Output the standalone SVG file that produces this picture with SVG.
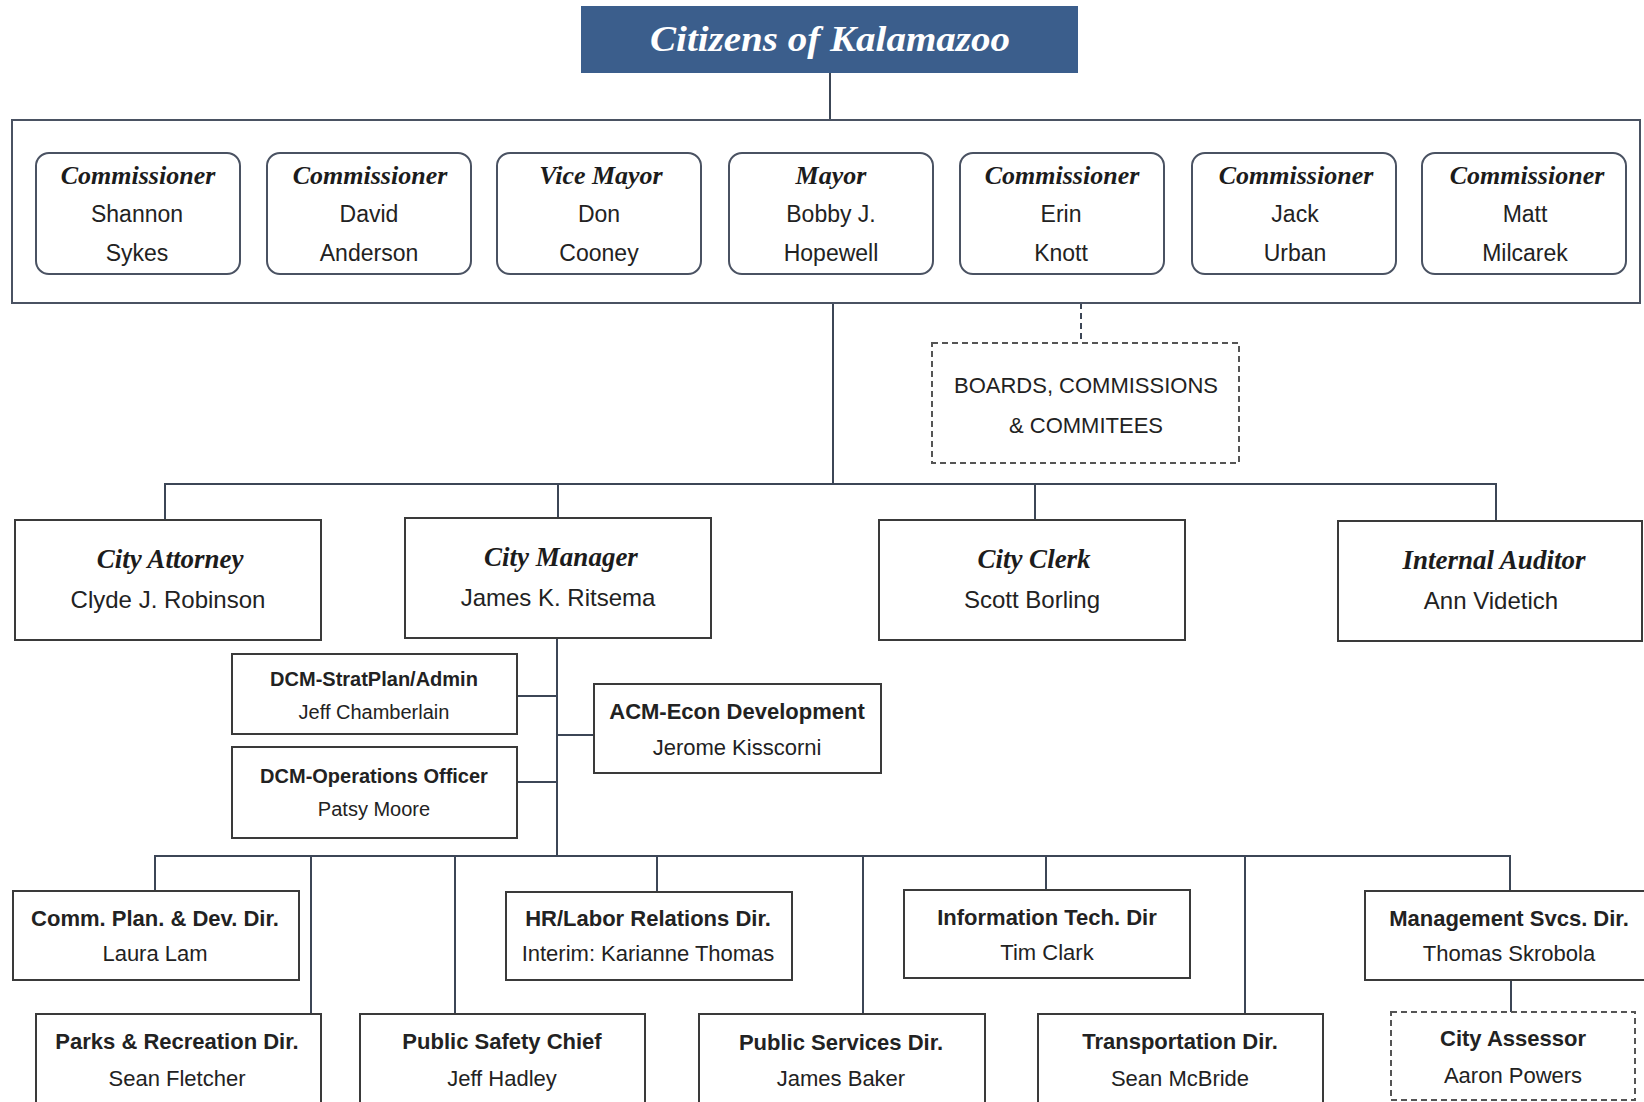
<svg xmlns="http://www.w3.org/2000/svg" width="1644" height="1102" viewBox="0 0 1644 1102">
<defs>
<style>
.bg{fill:#ffffff}
.ttl{font-family:"Liberation Serif",serif;font-style:italic;font-weight:bold;fill:#1c1c1c;text-anchor:middle}
.nm{font-family:"Liberation Sans",sans-serif;fill:#222;text-anchor:middle}
.bd{font-family:"Liberation Sans",sans-serif;font-weight:bold;fill:#222;text-anchor:middle}
.cbox{fill:#fff;stroke:#4a5262;stroke-width:2}
.box{fill:#fff;stroke:#3a3a3a;stroke-width:2}
.dbox{fill:#fff;stroke:#555;stroke-width:2;stroke-dasharray:6 4}
.ln{fill:none;stroke:#3c4656;stroke-width:2}
.dln{fill:none;stroke:#3c4656;stroke-width:2;stroke-dasharray:6 4}
</style>
</defs>
<rect class="bg" x="0" y="0" width="1644" height="1102"/>

<g id="connectors">
<line class="ln" x1="830" y1="73" x2="830" y2="120"/>
<line class="ln" x1="833" y1="303" x2="833" y2="484"/>
<line class="dln" x1="1081" y1="303" x2="1081" y2="343"/>
<polyline class="ln" points="165,520 165,484 1496,484 1496,521"/>
<line class="ln" x1="558" y1="484" x2="558" y2="518"/>
<line class="ln" x1="1035" y1="484" x2="1035" y2="520"/>
<line class="ln" x1="557" y1="638" x2="557" y2="856"/>
<line class="ln" x1="517" y1="696" x2="557" y2="696"/>
<line class="ln" x1="517" y1="782" x2="557" y2="782"/>
<line class="ln" x1="557" y1="735" x2="594" y2="735"/>
<polyline class="ln" points="155,891 155,856 1510,856 1510,891"/>
<line class="ln" x1="657" y1="856" x2="657" y2="892"/>
<line class="ln" x1="1046" y1="856" x2="1046" y2="890"/>
<line class="ln" x1="311" y1="856" x2="311" y2="1014"/>
<line class="ln" x1="455" y1="856" x2="455" y2="1014"/>
<line class="ln" x1="863" y1="856" x2="863" y2="1014"/>
<line class="ln" x1="1245" y1="856" x2="1245" y2="1014"/>
<line class="ln" x1="1511" y1="980" x2="1511" y2="1012"/>
</g>

<g id="citizens">
<rect x="581" y="6" width="497" height="67" fill="#3b5e8c"/>
<text x="830" y="51" class="ttl" font-size="36" style="fill:#fff" textLength="360" lengthAdjust="spacingAndGlyphs">Citizens of Kalamazoo</text>
</g>

<g id="council">
<rect class="cbox" x="12" y="120" width="1628" height="183"/>
</g>

<g id="comm-sykes">
<rect class="cbox" x="36" y="153" width="204" height="121" rx="13"/>
<text x="138" y="184" class="ttl" font-size="26">Commissioner</text>
<text x="137" y="222" class="nm" font-size="23">Shannon</text>
<text x="137" y="261" class="nm" font-size="23">Sykes</text>
</g>
<g id="comm-anderson">
<rect class="cbox" x="267" y="153" width="204" height="121" rx="13"/>
<text x="370" y="184" class="ttl" font-size="26">Commissioner</text>
<text x="369" y="222" class="nm" font-size="23">David</text>
<text x="369" y="261" class="nm" font-size="23">Anderson</text>
</g>
<g id="vice-mayor">
<rect class="cbox" x="497" y="153" width="204" height="121" rx="13"/>
<text x="601" y="184" class="ttl" font-size="26">Vice Mayor</text>
<text x="599" y="222" class="nm" font-size="23">Don</text>
<text x="599" y="261" class="nm" font-size="23">Cooney</text>
</g>
<g id="mayor">
<rect class="cbox" x="729" y="153" width="204" height="121" rx="13"/>
<text x="831" y="184" class="ttl" font-size="26">Mayor</text>
<text x="831" y="222" class="nm" font-size="23">Bobby J.</text>
<text x="831" y="261" class="nm" font-size="23">Hopewell</text>
</g>
<g id="comm-knott">
<rect class="cbox" x="960" y="153" width="204" height="121" rx="13"/>
<text x="1062" y="184" class="ttl" font-size="26">Commissioner</text>
<text x="1061" y="222" class="nm" font-size="23">Erin</text>
<text x="1061" y="261" class="nm" font-size="23">Knott</text>
</g>
<g id="comm-urban">
<rect class="cbox" x="1192" y="153" width="204" height="121" rx="13"/>
<text x="1296" y="184" class="ttl" font-size="26">Commissioner</text>
<text x="1295" y="222" class="nm" font-size="23">Jack</text>
<text x="1295" y="261" class="nm" font-size="23">Urban</text>
</g>
<g id="comm-milcarek">
<rect class="cbox" x="1422" y="153" width="204" height="121" rx="13"/>
<text x="1527" y="184" class="ttl" font-size="26">Commissioner</text>
<text x="1525" y="222" class="nm" font-size="23">Matt</text>
<text x="1525" y="261" class="nm" font-size="23">Milcarek</text>
</g>

<g id="boards">
<rect class="dbox" x="932" y="343" width="307" height="120"/>
<text x="1086" y="393" class="nm" font-size="22">BOARDS, COMMISSIONS</text>
<text x="1086" y="433" class="nm" font-size="22">&amp; COMMITEES</text>
</g>

<g id="city-attorney">
<rect class="box" x="15" y="520" width="306" height="120"/>
<text x="170" y="568" class="ttl" font-size="27">City Attorney</text>
<text x="168" y="608" class="nm" font-size="24">Clyde J. Robinson</text>
</g>
<g id="city-manager">
<rect class="box" x="405" y="518" width="306" height="120"/>
<text x="561" y="566" class="ttl" font-size="27">City Manager</text>
<text x="558" y="606" class="nm" font-size="24">James K. Ritsema</text>
</g>
<g id="city-clerk">
<rect class="box" x="879" y="520" width="306" height="120"/>
<text x="1034" y="568" class="ttl" font-size="27">City Clerk</text>
<text x="1032" y="608" class="nm" font-size="24">Scott Borling</text>
</g>
<g id="internal-auditor">
<rect class="box" x="1338" y="521" width="304" height="120"/>
<text x="1494" y="569" class="ttl" font-size="27">Internal Auditor</text>
<text x="1491" y="609" class="nm" font-size="24">Ann Videtich</text>
</g>

<g id="dcm-stratplan">
<rect class="box" x="232" y="654" width="285" height="80"/>
<text x="374" y="686" class="bd" font-size="20">DCM-StratPlan/Admin</text>
<text x="374" y="719" class="nm" font-size="20">Jeff Chamberlain</text>
</g>
<g id="dcm-operations">
<rect class="box" x="232" y="747" width="285" height="91"/>
<text x="374" y="783" class="bd" font-size="20">DCM-Operations Officer</text>
<text x="374" y="816" class="nm" font-size="20">Patsy Moore</text>
</g>
<g id="acm-econ">
<rect class="box" x="594" y="684" width="287" height="89"/>
<text x="737" y="719" class="bd" font-size="22">ACM-Econ Development</text>
<text x="737" y="755" class="nm" font-size="22">Jerome Kisscorni</text>
</g>

<g id="comm-plan">
<rect class="box" x="13" y="891" width="286" height="89"/>
<text x="155" y="926" class="bd" font-size="22">Comm. Plan. &amp; Dev. Dir.</text>
<text x="155" y="961" class="nm" font-size="22">Laura Lam</text>
</g>
<g id="hr-labor">
<rect class="box" x="506" y="892" width="286" height="88"/>
<text x="648" y="926" class="bd" font-size="22">HR/Labor Relations Dir.</text>
<text x="648" y="961" class="nm" font-size="22">Interim: Karianne Thomas</text>
</g>
<g id="info-tech">
<rect class="box" x="904" y="890" width="286" height="88"/>
<text x="1047" y="925" class="bd" font-size="22">Information Tech. Dir</text>
<text x="1047" y="960" class="nm" font-size="22">Tim Clark</text>
</g>
<g id="mgmt-svcs">
<rect class="box" x="1365" y="891" width="290" height="89"/>
<text x="1509" y="926" class="bd" font-size="22">Management Svcs. Dir.</text>
<text x="1509" y="961" class="nm" font-size="22">Thomas Skrobola</text>
</g>

<g id="parks">
<rect class="box" x="36" y="1014" width="285" height="100"/>
<text x="177" y="1049" class="bd" font-size="22">Parks &amp; Recreation Dir.</text>
<text x="177" y="1086" class="nm" font-size="22">Sean Fletcher</text>
</g>
<g id="public-safety">
<rect class="box" x="360" y="1014" width="285" height="100"/>
<text x="502" y="1049" class="bd" font-size="22">Public Safety Chief</text>
<text x="502" y="1086" class="nm" font-size="22">Jeff Hadley</text>
</g>
<g id="public-services">
<rect class="box" x="699" y="1014" width="286" height="100"/>
<text x="841" y="1050" class="bd" font-size="22">Public Services Dir.</text>
<text x="841" y="1086" class="nm" font-size="22">James Baker</text>
</g>
<g id="transportation">
<rect class="box" x="1038" y="1014" width="285" height="100"/>
<text x="1180" y="1049" class="bd" font-size="22">Transportation Dir.</text>
<text x="1180" y="1086" class="nm" font-size="22">Sean McBride</text>
</g>
<g id="city-assessor">
<rect class="dbox" x="1391" y="1012" width="244" height="88"/>
<text x="1513" y="1046" class="bd" font-size="22">City Assessor</text>
<text x="1513" y="1083" class="nm" font-size="22">Aaron Powers</text>
</g>
</svg>
